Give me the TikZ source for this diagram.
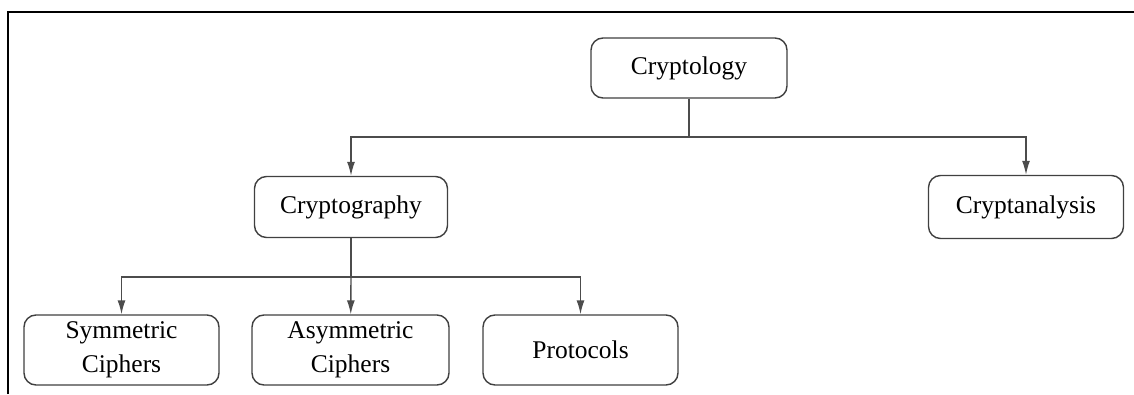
\documentclass[tikz,border=0pt]{standalone}
\usepackage{fontspec}
\setmainfont{Liberation Serif}
\usepackage{tikz}
\usetikzlibrary{arrows.meta}

\tikzset{
	box/.style={draw=black!75, line width=1.4pt, rounded corners=12pt, fill=white,
		align=center, inner sep=0pt, font=\fontsize{25.5}{34}\selectfont},
	link/.style={draw=black!70, line width=1.4pt},
}

\begin{document}
\begin{tikzpicture}[x=1pt,y=1pt,>={Latex[length=14pt,width=8pt]}]
	\useasboundingbox (0,0) rectangle (1134,394);
	%\draw [help lines, step=50] (0,0) grid (1134,394);
	%Cornice
	\draw [line width=2pt] (8,0) -- (8,382) -- (1134,382);
	%Radice
	\node [box, minimum width=196, minimum height=60] (cryptology) at (689,326) {Cryptology};
	%Secondo livello
	\node [box, minimum width=193, minimum height=61] (cryptography) at (351,187) {Cryptography};
	\node [box, minimum width=195, minimum height=63] (cryptanalysis) at (1026,187) {Cryptanalysis};
	%Terzo livello
	\node [box, minimum width=195, minimum height=70] (symmetric) at (121.5,44) {Symmetric\\Ciphers};
	\node [box, minimum width=197, minimum height=70] (asymmetric) at (350.5,44) {Asymmetric\\Ciphers};
	\node [box, minimum width=195, minimum height=70] (protocols) at (580.5,44) {Protocols};
	%Collegamenti
	\coordinate (split1) at (689,257);
	\coordinate (split2) at (351,117);
	\draw [link] (cryptology) -- (split1);
	\draw [link,->] (split1) -| (cryptography);
	\draw [link,->] (split1) -| (cryptanalysis);
	\draw [link] (cryptography) -- (split2);
	\draw [link,->] (split2) -| (symmetric);
	\draw [link,->] (split2) -- (asymmetric);
	\draw [link,->] (split2) -| (protocols);
\end{tikzpicture}
\end{document}
